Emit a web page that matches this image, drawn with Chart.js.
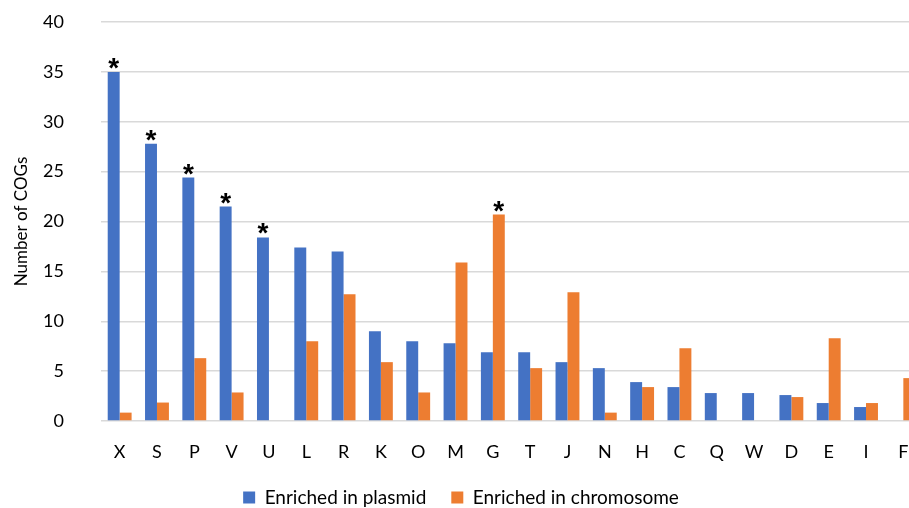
<!DOCTYPE html>
<html>
<head>
<meta charset="utf-8">
<script src="https://cdn.jsdelivr.net/npm/chart.js@4/dist/chart.umd.min.js"></script>
<style>
html,body{margin:0;padding:0;overflow:hidden;background:#fff;}
#wrap{width:922px;height:517px;}
</style>
</head>
<body>
<div id="wrap"><canvas id="c" width="922" height="517"></canvas></div>
<script>
const categories = ["X","S","P","V","U","L","R","K","O","M","G","T","J","N","H","C","Q","W","D","E","I","F"];
const plasmid    = [35, 27.8, 24.4, 21.5, 18.4, 17.4, 17.0, 9.0, 8.0, 7.8, 6.9, 6.9, 5.9, 5.3, 3.9, 3.4, 2.8, 2.8, 2.6, 1.8, 1.4, 0];
const chromosome = [0.84, 1.85, 6.3, 2.86, 0, 8.0, 12.7, 5.9, 2.86, 15.9, 20.7, 5.3, 12.9, 0.84, 3.4, 7.3, 0, 0, 2.4, 8.3, 1.8, 4.3];
const plasmidStars    = [1,1,1,1,1,0,0,0,0,0,0,0,0,0,0,0,0,0,0,0,0,0];
const chromosomeStars = [0,0,0,0,0,0,0,0,0,0,1,0,0,0,0,0,0,0,0,0,0,0];
const yTicks = [0,5,10,15,20,25,30,35,40];

const FONT = "Lato, 'Open Sans', sans-serif";
const starPlugin = {
  id: 'stars',
  afterDatasetsDraw(chart) {
    const ctx = chart.ctx;
    const flags = [plasmidStars, chromosomeStars];
    ctx.save();
    ctx.fillStyle = '#000';
    ctx.font = "bold 28px 'Liberation Sans', Arial, sans-serif";
    ctx.textAlign = 'center';
    ctx.textBaseline = 'alphabetic';
    flags.forEach((arr, di) => {
      const meta = chart.getDatasetMeta(di);
      arr.forEach((f, i) => {
        if (!f) return;
        const el = meta.data[i];
        ctx.fillText('*', el.x, el.y + 5);
      });
    });
    ctx.restore();
  }
};

new Chart(document.getElementById('c'), {
  type: 'bar',
  data: {
    labels: categories,
    datasets: [
      { label: 'Enriched in plasmid', data: plasmid, backgroundColor: '#4472C4', borderWidth: 0 },
      { label: 'Enriched in chromosome', data: chromosome, backgroundColor: '#ED7D31', borderWidth: 0 }
    ]
  },
  options: {
    responsive: false,
    animation: false,
    layout: { padding: { top: 22, right: 0, bottom: 0, left: 0 } },
    plugins: {
      legend: {
        position: 'bottom',
        labels: { font: { family: FONT, size: 19 }, color: '#000', boxWidth: 12, boxHeight: 12, padding: 25 }
      },
      tooltip: { enabled: false }
    },
    datasets: { bar: { categoryPercentage: 0.64, barPercentage: 1.0 } },
    scales: {
      x: {
        afterFit(axis) { axis.height = 42; },
        grid: { display: false, drawTicks: true, tickLength: 19, tickColor: 'rgba(0,0,0,0)' },
        border: { display: false },
        ticks: { font: { family: FONT, size: 18 }, color: '#000', padding: 1 }
      },
      y: {
        min: 0, max: 40,
        afterBuildTicks(axis) { axis.ticks = yTicks.map(v => ({ value: v })); },
        afterFit(axis) { axis.width = 101; },
        grid: { color: '#d9d9d9', lineWidth: 1.5, drawTicks: true, tickLength: 36, tickColor: 'rgba(0,0,0,0)' },
        border: { display: false },
        ticks: { font: { family: FONT, size: 18 }, color: '#000', padding: 1 },
        title: { display: true, text: 'Number of COGs', font: { family: FONT, size: 17 }, color: '#000', padding: { top: 11, bottom: 0 } }
      }
    }
  },
  plugins: [starPlugin]
});
</script>
</body>
</html>
